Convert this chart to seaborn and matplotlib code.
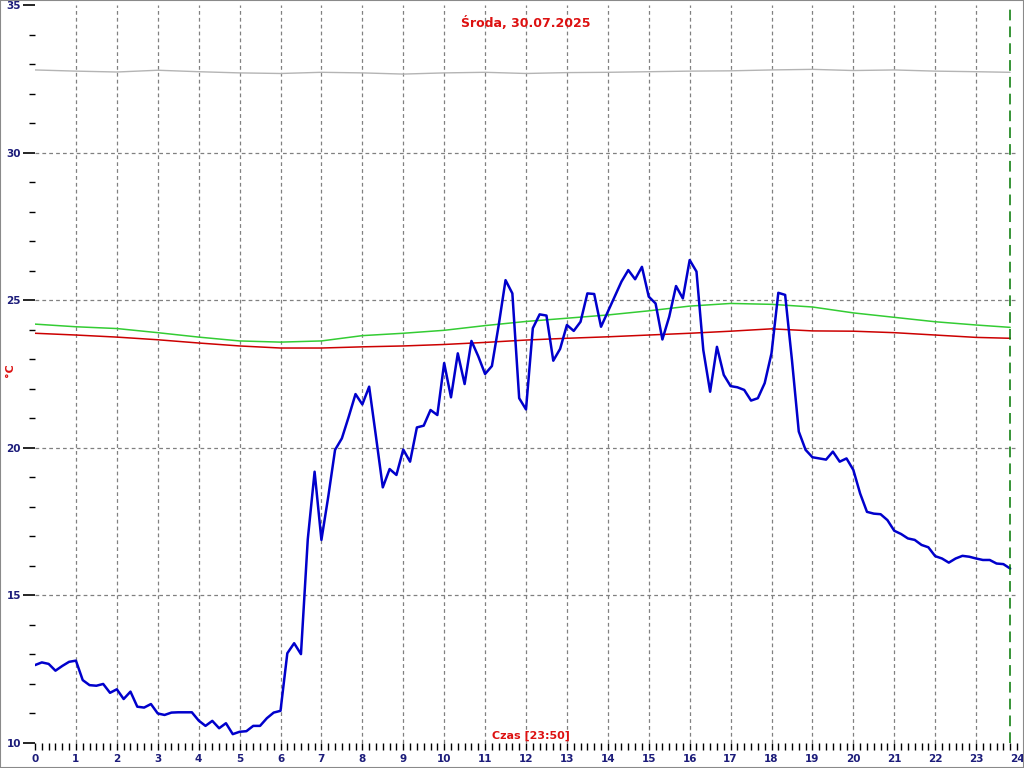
import numpy as np
import pandas as pd
import matplotlib
matplotlib.use("Agg")
import matplotlib.pyplot as plt
from matplotlib.ticker import MultipleLocator
import seaborn as sns

sns.set_style("white")
plt.rcParams['font.family'] = ['DejaVu Sans']

title = "Środa, 30.07.2025"
xlabel = "Czas [23:50]"
ylabel = "°C"
now_hour = 23 + 50 / 60

# blue series, one reading every 10 minutes (00:00 .. 23:50)
blue_temp = [
    12.64, 12.73, 12.68, 12.45, 12.61, 12.75, 12.79, 12.13, 11.96, 11.94, 12.00, 11.70,
    11.82, 11.49, 11.74, 11.23, 11.20, 11.32, 11.00, 10.95, 11.03, 11.04, 11.04, 11.04,
    10.76, 10.58, 10.75, 10.50, 10.67, 10.30, 10.38, 10.40, 10.58, 10.58, 10.84, 11.03,
    11.09, 13.04, 13.38, 13.01, 16.90, 19.19, 16.88, 18.34, 19.93, 20.32, 21.05, 21.82,
    21.47, 22.07, 20.38, 18.66, 19.28, 19.08, 19.94, 19.53, 20.69, 20.75, 21.28, 21.11,
    22.87, 21.71, 23.20, 22.16, 23.62, 23.10, 22.50, 22.77, 24.16, 25.68, 25.23, 21.68,
    21.30, 24.05, 24.52, 24.48, 22.95, 23.35, 24.16, 23.96, 24.27, 25.23, 25.21, 24.10,
    24.61, 25.12, 25.63, 26.02, 25.71, 26.13, 25.12, 24.89, 23.67, 24.44, 25.48, 25.06,
    26.36, 25.97, 23.31, 21.90, 23.42, 22.47, 22.09, 22.05, 21.96, 21.60, 21.68, 22.19,
    23.20, 25.25, 25.18, 22.97, 20.55, 19.93, 19.68, 19.64, 19.60, 19.87, 19.53, 19.64,
    19.25, 18.45, 17.83, 17.77, 17.75, 17.55, 17.19, 17.08, 16.93, 16.88, 16.71, 16.63,
    16.33, 16.25, 16.11, 16.25, 16.34, 16.31, 16.25, 16.20, 16.20, 16.08, 16.06, 15.91,
]
blue_hours = np.arange(len(blue_temp)) / 6

# hourly readings of the slow series (00:00 .. 23:00, 23:50)
slow_hours = list(range(24)) + [now_hour]
green_temp = [24.19, 24.10, 24.04, 23.90, 23.75, 23.62, 23.58, 23.62, 23.80, 23.88, 23.98, 24.14,
              24.28, 24.39, 24.50, 24.64, 24.80, 24.89, 24.86, 24.77, 24.57, 24.42, 24.27, 24.16, 24.08]
red_temp = [23.88, 23.82, 23.75, 23.66, 23.55, 23.45, 23.38, 23.38, 23.42, 23.45, 23.50, 23.57,
            23.65, 23.71, 23.76, 23.82, 23.88, 23.95, 24.03, 23.96, 23.95, 23.90, 23.82, 23.74, 23.71]
gray_temp = [32.80, 32.76, 32.73, 32.79, 32.74, 32.70, 32.68, 32.72, 32.70, 32.66, 32.70, 32.72,
             32.68, 32.71, 32.72, 32.74, 32.76, 32.77, 32.80, 32.82, 32.78, 32.80, 32.76, 32.74, 32.72]

x_ticks = list(range(25))
y_ticks = [10, 15, 20, 25, 30, 35]

blue_df = pd.DataFrame({"h": blue_hours, "t": blue_temp})
slow_df = pd.DataFrame({"h": slow_hours, "green": green_temp, "red": red_temp, "gray": gray_temp})

fig = plt.figure(figsize=(10.24, 7.68), dpi=100)
fig.patch.set_facecolor("white")
ax = fig.add_axes([35 / 1024, 1 - 743 / 768, (1017 - 35) / 1024, (743 - 5) / 768])

tick_color = "#1c1c7a"
grid_kw = dict(color="#808080", linestyle=(0, (3, 2.5)), linewidth=0.9, zorder=0)
for yv in [15, 20, 25, 30]:
    ax.axhline(yv, **grid_kw)
for xv in range(1, 24):
    ax.axvline(xv, **grid_kw)

sns.lineplot(data=slow_df, x="h", y="gray", ax=ax, color="#b4b4b4", linewidth=1.0, zorder=2)
sns.lineplot(data=slow_df, x="h", y="green", ax=ax, color="#33cc33", linewidth=1.1, zorder=2)
sns.lineplot(data=slow_df, x="h", y="red", ax=ax, color="#cc0000", linewidth=1.1, zorder=2)
sns.lineplot(data=blue_df, x="h", y="t", ax=ax, color="#0000cc", linewidth=1.8, zorder=3)

ax.axvline(now_hour, color="#007700", linestyle=(0, (7, 4)), linewidth=1.1, zorder=4)

ax.set_xlim(0, 24)
ax.set_ylim(10, 35)
for s in ax.spines.values():
    s.set_visible(False)

ax.set_xticks(x_ticks)
ax.set_xticklabels([str(v) for v in x_ticks])
ax.xaxis.set_minor_locator(MultipleLocator(1 / 6))
ax.set_yticks(y_ticks)
ax.set_yticklabels([str(v) for v in y_ticks])
ax.yaxis.set_minor_locator(MultipleLocator(1))

ax.tick_params(which="both", bottom=True, left=True, top=False, right=False)
ax.tick_params(axis="x", which="major", direction="out", length=5, width=1, color="black",
               labelsize=7.5, labelcolor=tick_color, pad=3)
ax.tick_params(axis="x", which="minor", direction="out", length=5, width=1, color="black")
ax.tick_params(axis="y", which="major", direction="out", length=9, width=1.2, color="black",
               labelsize=7.5, labelcolor=tick_color, pad=1)
ax.tick_params(axis="y", which="minor", direction="out", length=4, width=1, color="black")
for lab in ax.get_xticklabels() + ax.get_yticklabels():
    lab.set_fontweight("bold")

ax.set_xlabel("")
ax.set_ylabel("")
ax.text(0.5, 0.985, title, transform=ax.transAxes, ha="center", va="top",
        color="#dd1111", fontsize=9, fontweight="bold")
ax.text(0.505, 0.003, xlabel, transform=ax.transAxes, ha="center", va="bottom",
        color="#dd1111", fontsize=8, fontweight="bold")
fig.text(10 / 1024, 1 - 370 / 768, ylabel, rotation=90, ha="center", va="center",
         color="#dd1111", fontsize=8, fontweight="bold")

# figure frame
fig.add_artist(plt.Rectangle((0, 0), 1, 1, transform=fig.transFigure, fill=False,
                             edgecolor="#8a8a8a", linewidth=1.5))

fig.savefig("out.png", dpi=100)
